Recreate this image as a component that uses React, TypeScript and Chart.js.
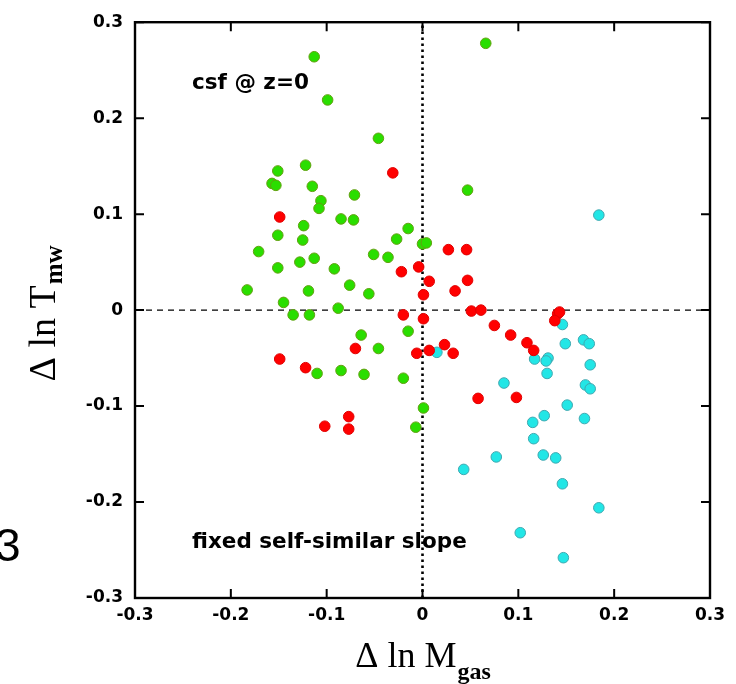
import React, { useEffect, useRef } from "react";
import { Chart, registerables } from "chart.js";

Chart.register(...registerables);

const xTicks = [-0.3, -0.2, -0.1, 0, 0.1, 0.2, 0.3];
const xTickLabels = ["-0.3", "-0.2", "-0.1", "0", "0.1", "0.2", "0.3"];
const yTicks = [-0.3, -0.2, -0.1, 0, 0.1, 0.2, 0.3];
const yTickLabels = ["-0.3", "-0.2", "-0.1", "0", "0.1", "0.2", "0.3"];

const greenX = [-0.113, -0.099, -0.046, -0.122, -0.151, -0.157, -0.153, -0.115, -0.071, -0.106, -0.108, -0.085, -0.072, -0.124, -0.015, -0.151, -0.125, -0.027, 0.0, 0.004, -0.171, -0.051, -0.036, -0.113, -0.128, -0.151, -0.092, -0.076, -0.183, -0.119, -0.056, -0.145, -0.088, -0.135, -0.118, 0.066, 0.047, -0.015, -0.064, -0.046, -0.110, -0.085, -0.061, -0.020, 0.001, -0.007];
const greenY = [0.264, 0.219, 0.179, 0.151, 0.145, 0.132, 0.130, 0.129, 0.120, 0.114, 0.106, 0.095, 0.094, 0.088, 0.085, 0.078, 0.073, 0.074, 0.069, 0.070, 0.061, 0.058, 0.055, 0.054, 0.050, 0.044, 0.043, 0.026, 0.021, 0.020, 0.017, 0.008, 0.002, -0.005, -0.005, 0.278, 0.125, -0.022, -0.026, -0.040, -0.066, -0.063, -0.067, -0.071, -0.102, -0.122];

const redX = [-0.031, -0.149, 0.027, 0.046, -0.004, -0.022, 0.007, 0.047, 0.034, 0.001, -0.020, 0.001, 0.051, 0.061, 0.075, 0.092, 0.109, 0.116, 0.141, 0.143, 0.138, 0.023, 0.007, 0.032, -0.006, 0.058, 0.098, -0.149, -0.122, -0.070, -0.102, -0.077, -0.077];
const redY = [0.143, 0.097, 0.063, 0.063, 0.045, 0.040, 0.030, 0.031, 0.020, 0.016, -0.005, -0.009, -0.001, 0.0, -0.016, -0.026, -0.034, -0.042, -0.004, -0.002, -0.011, -0.036, -0.042, -0.045, -0.045, -0.092, -0.091, -0.051, -0.060, -0.040, -0.121, -0.111, -0.124];

const cyanX = [0.184, 0.146, 0.149, 0.168, 0.174, 0.175, 0.117, 0.131, 0.129, 0.130, 0.085, 0.170, 0.175, 0.015, 0.151, 0.115, 0.127, 0.169, 0.116, 0.126, 0.139, 0.077, 0.043, 0.146, 0.184, 0.102, 0.147];
const cyanY = [0.099, -0.015, -0.035, -0.031, -0.035, -0.057, -0.051, -0.050, -0.053, -0.066, -0.076, -0.078, -0.082, -0.044, -0.099, -0.117, -0.110, -0.113, -0.134, -0.151, -0.154, -0.153, -0.166, -0.181, -0.206, -0.232, -0.258];

const topLabel = "csf @ z=0";
const bottomLabel = "fixed self-similar slope";
const xTitleMain = "Δ ln M";
const xTitleSub = "gas";
const yTitleMain = "Δ ln T";
const yTitleSub = "mw";
const sideMark = "3";

const toPoints = (xs: number[], ys: number[]) => xs.map((x, i) => ({ x, y: ys[i] }));

const framePlugin = {
  id: "gnuplotFrame",
  beforeDatasetsDraw(chart: any) {
    const { ctx, chartArea } = chart;
    const xs = chart.scales.x;
    const ys = chart.scales.y;
    const { left, right, top, bottom } = chartArea;
    ctx.save();
    ctx.strokeStyle = "#000";
    const y0 = ys.getPixelForValue(0);
    ctx.lineWidth = 1.3;
    ctx.setLineDash([6, 5]);
    ctx.beginPath();
    ctx.moveTo(left, y0);
    ctx.lineTo(right, y0);
    ctx.stroke();
    const x0 = xs.getPixelForValue(0);
    ctx.lineWidth = 2.6;
    ctx.setLineDash([2.6, 3.4]);
    ctx.beginPath();
    ctx.moveTo(x0, bottom);
    ctx.lineTo(x0, top);
    ctx.stroke();
    ctx.restore();
  },
  afterDatasetsDraw(chart: any) {
    const { ctx, chartArea } = chart;
    const xs = chart.scales.x;
    const ys = chart.scales.y;
    const { left, right, top, bottom } = chartArea;
    ctx.save();
    ctx.strokeStyle = "#000";
    ctx.setLineDash([]);
    ctx.lineWidth = 2.4;
    ctx.strokeRect(left, top, right - left, bottom - top);
    ctx.lineWidth = 2;
    const tl = 9;
    xTicks.forEach((v) => {
      const p = xs.getPixelForValue(v);
      ctx.beginPath();
      ctx.moveTo(p, bottom);
      ctx.lineTo(p, bottom - tl);
      ctx.moveTo(p, top);
      ctx.lineTo(p, top + tl);
      ctx.stroke();
    });
    yTicks.forEach((v) => {
      const p = ys.getPixelForValue(v);
      ctx.beginPath();
      ctx.moveTo(left, p);
      ctx.lineTo(left + tl, p);
      ctx.moveTo(right, p);
      ctx.lineTo(right - tl, p);
      ctx.stroke();
    });

    ctx.fillStyle = "#000";
    ctx.font = "bold 21.5px 'DejaVu Sans'";
    ctx.textAlign = "left";
    ctx.textBaseline = "alphabetic";
    ctx.fillText(topLabel, left + 57, top + 67);
    ctx.fillText(bottomLabel, left + 57, top + 526);

    // x title
    const cx = (left + right) / 2;
    const mainFont = "36px 'Liberation Serif'";
    const subFont = "bold 24px 'Liberation Serif'";
    ctx.font = mainFont;
    const wMain = ctx.measureText(xTitleMain).width;
    ctx.font = subFont;
    const wSub = ctx.measureText(xTitleSub).width;
    const start = cx - (wMain + wSub) / 2;
    ctx.font = mainFont;
    ctx.fillText(xTitleMain, start, 667);
    ctx.font = subFont;
    ctx.fillText(xTitleSub, start + wMain + 1, 679);

    // y title
    const yMainFont = "38px 'Liberation Serif'";
    const ySubFont = "bold 25px 'Liberation Serif'";
    ctx.font = yMainFont;
    const wyMain = ctx.measureText(yTitleMain).width;
    ctx.font = ySubFont;
    const wySub = ctx.measureText(yTitleSub).width;
    ctx.save();
    ctx.translate(55, 314);
    ctx.rotate(-Math.PI / 2);
    const ys0 = -(wyMain + wySub) / 2;
    ctx.font = yMainFont;
    ctx.fillText(yTitleMain, ys0, 0);
    ctx.font = ySubFont;
    ctx.fillText(yTitleSub, ys0 + wyMain + 1, 7);
    ctx.restore();

    ctx.font = "46px 'Liberation Sans'";
    ctx.fillText(sideMark, -5, 561);
    ctx.restore();
  },
};

export default function App() {
  const ref = useRef<HTMLCanvasElement | null>(null);
  useEffect(() => {
    if (!ref.current) return;
    const tickFont = { family: "'DejaVu Sans'", size: 17, weight: "bold" as const };
    const chart = new Chart(ref.current, {
      type: "scatter",
      data: {
        datasets: [
          {
            label: "green",
            data: toPoints(greenX, greenY),
            backgroundColor: "#2ade00",
            borderColor: "#62a010",
            borderWidth: 1,
            pointRadius: 5.3,
          },
          {
            label: "red",
            data: toPoints(redX, redY),
            backgroundColor: "#ff0000",
            borderColor: "#e00000",
            borderWidth: 1,
            pointRadius: 5.3,
          },
          {
            label: "cyan",
            data: toPoints(cyanX, cyanY),
            backgroundColor: "#22e6e6",
            borderColor: "#40a8b0",
            borderWidth: 1,
            pointRadius: 5.3,
          },
        ],
      },
      options: {
        responsive: false,
        animation: false,
        devicePixelRatio: 1,
        layout: { padding: { top: 22, right: 26, left: 0, bottom: 0 } },
        plugins: { legend: { display: false }, tooltip: { enabled: false } },
        scales: {
          x: {
            type: "linear",
            min: -0.3,
            max: 0.3,
            afterBuildTicks: (s: any) => {
              s.ticks = xTicks.map((v) => ({ value: v }));
            },
            afterFit: (s: any) => {
              s.height = 86;
            },
            grid: { display: false, drawTicks: false },
            border: { display: false },
            ticks: {
              color: "#000",
              font: tickFont,
              padding: 7,
              maxRotation: 0,
              autoSkip: false,
              callback: (_v: any, i: number) => xTickLabels[i],
            },
          },
          y: {
            type: "linear",
            min: -0.3,
            max: 0.3,
            afterBuildTicks: (s: any) => {
              s.ticks = yTicks.map((v) => ({ value: v }));
            },
            afterFit: (s: any) => {
              s.width = 135;
            },
            grid: { display: false, drawTicks: false },
            border: { display: false },
            ticks: {
              color: "#000",
              font: tickFont,
              padding: 12,
              autoSkip: false,
              callback: (_v: any, i: number) => yTickLabels[i],
            },
          },
        },
      },
      plugins: [framePlugin],
    });
    return () => chart.destroy();
  }, []);
  return (
    <div style={{ position: "absolute", left: 0, top: 0, width: 736, height: 684, background: "#fff" }}>
      <canvas ref={ref} width={736} height={684} style={{ display: "block" }} />
    </div>
  );
}
